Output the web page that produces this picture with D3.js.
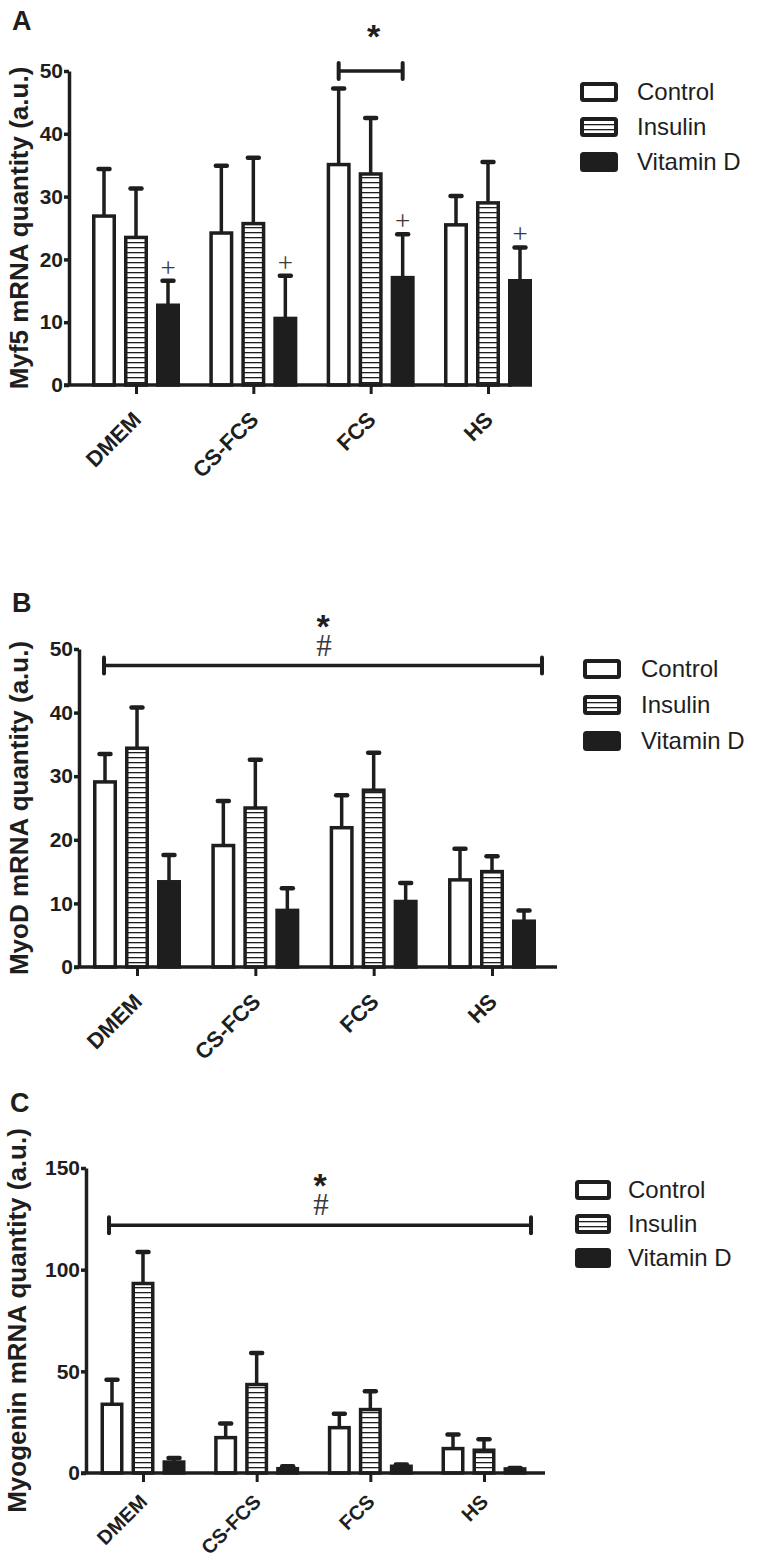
<!DOCTYPE html>
<html><head><meta charset="utf-8">
<script src="https://cdn.jsdelivr.net/npm/d3@7"></script>
<style>
html,body{margin:0;padding:0;background:#fff;}
svg{display:block;font-family:"Liberation Sans",Arial,sans-serif;}
</style></head>
<body>
<script>
// ---------- data ----------
const categories = ["DMEM", "CS-FCS", "FCS", "HS"];
const seriesNames = ["Control", "Insulin", "Vitamin D"];

// Panel A: Myf5
const myf5Control = [26.9, 24.2, 35.1, 25.5];
const myf5ControlErr = [7.5, 10.7, 12.1, 4.6];
const myf5Insulin = [23.5, 25.7, 33.6, 29.0];
const myf5InsulinErr = [7.8, 10.5, 8.9, 6.5];
const myf5VitD = [12.7, 10.6, 17.1, 16.6];
const myf5VitDErr = [3.9, 6.8, 6.9, 5.3];
const myf5Ticks = [0, 10, 20, 30, 40, 50];

// Panel B: MyoD
const myodControl = [29.1, 19.1, 21.9, 13.7];
const myodControlErr = [4.4, 7.0, 5.1, 4.9];
const myodInsulin = [34.4, 25.0, 27.8, 15.0];
const myodInsulinErr = [6.4, 7.6, 5.9, 2.4];
const myodVitD = [13.4, 8.9, 10.3, 7.2];
const myodVitDErr = [4.2, 3.5, 2.9, 1.7];
const myodTicks = [0, 10, 20, 30, 40, 50];

// Panel C: Myogenin
const myogControl = [33.8, 17.4, 22.3, 12.0];
const myogControlErr = [12.1, 6.9, 6.9, 6.9];
const myogInsulin = [93.2, 43.5, 31.2, 11.2];
const myogInsulinErr = [15.5, 15.5, 9.0, 5.4];
const myogVitD = [5.4, 2.1, 3.3, 2.0];
const myogVitDErr = [2.0, 1.2, 0.9, 0.5];
const myogTicks = [0, 50, 100, 150];

// ---------- drawing ----------
const INK = "#1e1e1e";
const svg = d3.select("body").append("svg").attr("width", 757).attr("height", 1567);

const defs = svg.append("defs");
const pat = defs.append("pattern").attr("id", "hatch").attr("patternUnits", "userSpaceOnUse")
  .attr("width", 8).attr("height", 5);
pat.append("rect").attr("width", 8).attr("height", 5).attr("fill", "#fff");
pat.append("rect").attr("y", 2).attr("width", 8).attr("height", 1.3).attr("fill", INK);

const fills = { "Control": "#fff", "Insulin": "url(#hatch)", "Vitamin D": INK };

function panel(cfg) {
  const g = svg.append("g");
  const y = d3.scaleLinear().domain([0, cfg.yMax]).range([cfg.y0, cfg.yTop]);
  const x = d3.scalePoint().domain(categories).range([cfg.xFirst, cfg.xLast]);
  const inner = d3.scaleBand().domain(seriesNames)
    .range([-1.5 * cfg.step, 1.5 * cfg.step]).paddingInner(0).paddingOuter(0);

  const rows = [];
  categories.forEach((c, i) => {
    cfg.series.forEach((s, k) => {
      rows.push({ cat: c, ser: seriesNames[k], v: s.mean[i], e: s.err[i] });
    });
  });
  const cx = d => x(d.cat) + inner(d.ser) + inner.bandwidth() / 2;
  const bw = cfg.barW - 3.5;

  // error bars (upward only)
  const eb = g.append("g");
  eb.selectAll("line.v").data(rows).join("line")
    .attr("x1", cx).attr("x2", cx)
    .attr("y1", d => y(d.v)).attr("y2", d => y(d.v + d.e))
    .attr("stroke", INK).attr("stroke-width", 3.5);
  eb.selectAll("line.c").data(rows).join("line")
    .attr("x1", d => cx(d) - 5.5).attr("x2", d => cx(d) + 5.5)
    .attr("y1", d => y(d.v + d.e)).attr("y2", d => y(d.v + d.e))
    .attr("stroke", INK).attr("stroke-width", 4.5).attr("stroke-linecap", "round");

  // bars
  g.append("g").selectAll("rect").data(rows).join("rect")
    .attr("x", d => cx(d) - bw / 2).attr("width", bw)
    .attr("y", d => y(d.v)).attr("height", d => y(0) - y(d.v))
    .attr("fill", d => fills[d.ser]).attr("stroke", INK).attr("stroke-width", 3.5);

  // y axis
  const ya = g.append("g").attr("transform", `translate(${cfg.axisX},0)`)
    .call(d3.axisLeft(y).tickValues(cfg.ticks).tickSize(5).tickSizeOuter(0).tickPadding(1));
  ya.select(".domain").attr("stroke", INK).attr("stroke-width", 3.5);
  ya.selectAll(".tick line").attr("stroke", INK).attr("stroke-width", 3.5);
  ya.selectAll(".tick text").attr("fill", INK).attr("font-size", 21).attr("font-weight", "bold")
    .attr("font-family", "Liberation Sans, Arial, sans-serif");

  // x axis
  g.append("line").attr("x1", cfg.axisX - 5).attr("x2", cfg.xRight)
    .attr("y1", cfg.y0).attr("y2", cfg.y0).attr("stroke", INK).attr("stroke-width", 3.5);
  const xa = g.append("g").attr("transform", `translate(0,${cfg.y0})`)
    .call(d3.axisBottom(x).tickSize(9).tickSizeOuter(0));
  xa.select(".domain").remove();
  xa.selectAll(".tick line").attr("stroke", INK).attr("stroke-width", 3);
  xa.selectAll(".tick text").attr("fill", INK).attr("font-size", cfg.xFont).attr("font-weight", "bold")
    .attr("font-family", "Liberation Sans, Arial, sans-serif")
    .attr("x", 0).attr("y", 0).attr("dy", null)
    .attr("text-anchor", "end")
    .attr("transform", `translate(${cfg.xLabDx},${cfg.xLabDy}) rotate(-45)`);

  // y title
  g.append("text").attr("transform", `translate(${cfg.titleX},${(cfg.y0 + cfg.yTop) / 2}) rotate(-90)`)
    .attr("text-anchor", "middle").attr("font-size", 26).attr("font-weight", "bold").attr("fill", INK)
    .text(cfg.title);

  // panel letter
  g.append("text").attr("x", cfg.letterX).attr("y", cfg.letterY).attr("font-size", 27)
    .attr("font-weight", "bold").attr("fill", INK).text(cfg.letter);

  // significance bracket
  const b = cfg.bracket;
  const by = y(b.level);
  const bx1 = b.x1(x, inner), bx2 = b.x2(x, inner);
  g.append("line").attr("x1", bx1).attr("x2", bx2).attr("y1", by).attr("y2", by)
    .attr("stroke", INK).attr("stroke-width", 3.5);
  [bx1, bx2].forEach(bx => g.append("line").attr("x1", bx).attr("x2", bx)
    .attr("y1", by - 8).attr("y2", by + 8).attr("stroke", INK).attr("stroke-width", 4).attr("stroke-linecap", "round"));
  const mid = (bx1 + bx2) / 2;
  g.append("text").attr("x", mid + b.starDx).attr("y", by - b.starOff).attr("text-anchor", "middle")
    .attr("font-size", 34).attr("font-weight", "bold")
    .attr("font-family", "Liberation Sans, Arial, sans-serif").attr("fill", INK).text("*");
  if (b.hash) {
    g.append("text").attr("x", mid + 1).attr("y", by - 10).attr("text-anchor", "middle")
      .attr("font-size", 31).attr("font-family", "Liberation Serif, serif").attr("fill", "#3a3a3a")
      .attr("opacity", 0.999).text("#");
  }

  // plus signs above Vitamin D error bars (panel A)
  if (cfg.plus) {
    g.append("g").attr("opacity", 0.999).selectAll("text").data(rows.filter(d => d.ser === "Vitamin D")).join("text")
      .attr("x", cx).attr("y", d => y(d.v + d.e) - 4).attr("text-anchor", "middle")
      .attr("font-size", 27).attr("font-family", "Liberation Serif, serif").attr("fill", "#3a3a3a")
      .text("+");
  }

  // legend
  const lg = g.append("g").attr("transform", `translate(${cfg.legX},${cfg.legY})`);
  seriesNames.forEach((s, i) => {
    const r = lg.append("g").attr("transform", `translate(0,${i * cfg.legGap})`);
    r.append("rect").attr("x", 2).attr("y", -8).attr("width", cfg.legBoxW - 4).attr("height", 16)
      .attr("rx", 1.5).attr("fill", fills[s]).attr("stroke", INK).attr("stroke-width", 4);
    r.append("text").attr("x", cfg.legTextX).attr("y", 8).attr("font-size", 24).attr("fill", INK).text(s);
  });
}

panel({
  letter: "A", letterX: 12, letterY: 30,
  title: "Myf5 mRNA quantity (a.u.)", titleX: 28,
  yMax: 50, ticks: myf5Ticks, y0: 385, yTop: 71, axisX: 69, xRight: 512,
  xFirst: 136, xLast: 488, step: 32, barW: 24,
  xFont: 22, xLabDx: 6, xLabDy: 36,
  series: [{ mean: myf5Control, err: myf5ControlErr }, { mean: myf5Insulin, err: myf5InsulinErr }, { mean: myf5VitD, err: myf5VitDErr }],
  bracket: {
    level: 50, starOff: 23, starDx: 3, hash: false,
    x1: (x, inn) => x("FCS") + inn("Control") + inn.bandwidth() / 2,
    x2: (x, inn) => x("FCS") + inn("Vitamin D") + inn.bandwidth() / 2
  },
  plus: true,
  legX: 580, legY: 92, legGap: 35, legBoxW: 38, legTextX: 57
});

panel({
  letter: "B", letterX: 12, letterY: 612,
  title: "MyoD mRNA quantity (a.u.)", titleX: 28,
  yMax: 50, ticks: myodTicks, y0: 967, yTop: 649, axisX: 79, xRight: 557,
  xFirst: 137, xLast: 492, step: 32, barW: 24,
  xFont: 22, xLabDx: 6, xLabDy: 36,
  series: [{ mean: myodControl, err: myodControlErr }, { mean: myodInsulin, err: myodInsulinErr }, { mean: myodVitD, err: myodVitDErr }],
  bracket: {
    level: 47.4, starOff: 28, starDx: 0, hash: true,
    x1: () => 104,
    x2: () => 542
  },
  plus: false,
  legX: 583, legY: 669, legGap: 36, legBoxW: 38, legTextX: 58
});

panel({
  letter: "C", letterX: 10, letterY: 1112,
  title: "Myogenin mRNA quantity (a.u.)", titleX: 26,
  yMax: 150, ticks: myogTicks, y0: 1473, yTop: 1168, axisX: 86, xRight: 545,
  xFirst: 143, xLast: 484, step: 31, barW: 23,
  xFont: 20, xLabDx: 5, xLabDy: 30,
  series: [{ mean: myogControl, err: myogControlErr }, { mean: myogInsulin, err: myogInsulinErr }, { mean: myogVitD, err: myogVitDErr }],
  bracket: {
    level: 121.8, starOff: 28, starDx: 0, hash: true,
    x1: () => 109,
    x2: () => 531
  },
  plus: false,
  legX: 575, legY: 1190, legGap: 34, legBoxW: 36, legTextX: 53
});
</script>
</body></html>
